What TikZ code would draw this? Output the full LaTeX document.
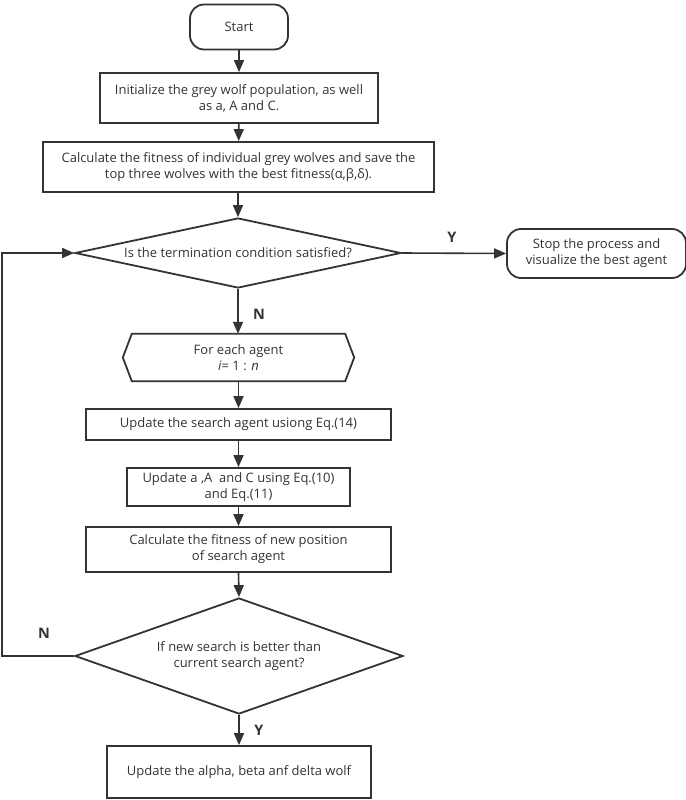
\documentclass[tikz,border=0pt]{standalone}
\usepackage{fontspec}
\setmainfont{Open Sans}
\usetikzlibrary{arrows.meta,shapes.geometric}
\definecolor{ink}{HTML}{333333}
\begin{document}
\begin{tikzpicture}[x=1pt,y=-1pt,
  every node/.style={font=\fontsize{13}{16}\selectfont, text=ink},
  proc/.style={draw=ink, line width=1.8pt, rectangle, inner sep=0pt, align=center},
  term/.style={proc, rounded corners=14pt},
  dec/.style={draw=ink, line width=1.8pt, diamond, inner sep=0pt, align=center},
  lbl/.style={font=\fontsize{14.5}{16}\selectfont\bfseries, text=ink},
  link/.style={draw=ink, line width=1.6pt, -{Triangle[length=12pt,width=10pt]}},
  plain/.style={draw=ink, line width=1.8pt}]
\useasboundingbox (0,0) rectangle (685,800);
\node[term, minimum width=98pt, minimum height=45pt] (start) at (239,27) {Start};
\node[proc, minimum width=278pt, minimum height=50pt] (init) at (239,98) {Initialize the grey wolf population, as well\\as a, A and C.};
\node[proc, minimum width=391pt, minimum height=50pt] (calc) at (238.5,167) {Calculate the fitness of individual grey wolves and save the\\top three wolves with the best fitness(α,β,δ).};
\node[dec, minimum width=326pt, minimum height=70pt, aspect=4.66] (d1) at (238,253) {Is the termination condition satisfied?};
\node[term, minimum width=179pt, minimum height=49pt] (stop) at (596.5,253.5) {Stop the process and\\visualize the best agent};
\node[inner sep=0pt, minimum width=213pt, minimum height=47pt, align=center] (hex) at (238.5,357.5) {For each agent\\\textit{i}= 1 : \textit{n}};
\draw[plain, line join=miter] ([xshift=-9pt]hex.west) -- (hex.north west) -- (hex.north east) -- ([xshift=9pt]hex.east) -- (hex.south east) -- (hex.south west) -- cycle;
\node[proc, minimum width=305pt, minimum height=31pt] (up1) at (238.5,424.5) {Update the search agent usiong Eq.(14)};
\node[proc, minimum width=223pt, minimum height=38pt] (up2) at (238.5,487) {Update a ,A\ \ and C using Eq.(10)\\and Eq.(11)};
\node[proc, minimum width=305pt, minimum height=45pt] (calcnew) at (238.5,549.5) {Calculate the fitness of new position\\of search agent};
\node[dec, minimum width=328pt, minimum height=116pt, aspect=2.83] (d2) at (239,656) {If new search is better than\\current search agent?};
\node[proc, minimum width=264pt, minimum height=52pt] (upd) at (239,772) {Update the alpha, beta anf delta wolf};
\coordinate (lb) at (2,656);
\coordinate (lt) at (2,253);
\draw[link] (start) -- (init);
\draw[link] (init) -- (calc);
\draw[link] (calc.south -| d1.north) -- (d1.north);
\draw[link] (d1.east) -- (stop.west);
\draw[link] (d1.south) -- (hex.north -| d1.south);
\draw[link] (hex.south -| up1.north) -- (up1.north);
\draw[link] (up1) -- (up2);
\draw[link] (up2) -- (calcnew);
\draw[link] (calcnew.south) -- (d2.north);
\draw[link] (d2.south) -- (upd.north -| d2.south);
\draw[link] (d2.west) -- (lb) -- (lt) -- (d1.west);
\node[lbl] (ly1) at (452,237) {Y};
\node[lbl] (ln1) at (259,314) {N};
\node[lbl] (ln2) at (44,633) {N};
\node[lbl] (ly2) at (259,730) {Y};
\end{tikzpicture}
\end{document}
